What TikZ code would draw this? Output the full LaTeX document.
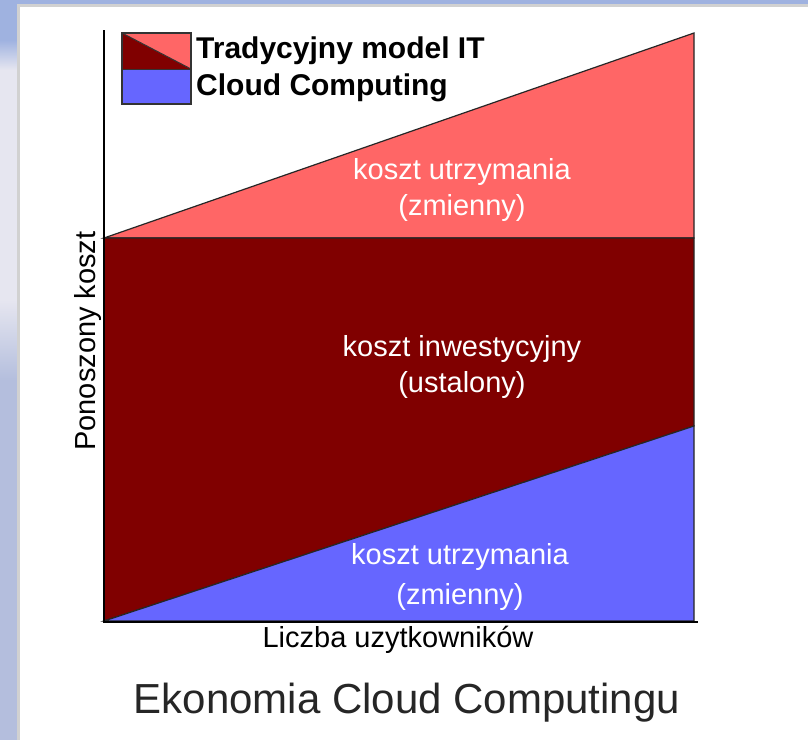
\documentclass[tikz,border=0pt]{standalone}
\usepackage{fontspec}
\setmainfont{Liberation Sans}
\definecolor{lightred}{HTML}{FF6666}
\definecolor{darkred}{HTML}{800000}
\definecolor{cloudblue}{HTML}{6666FF}
\definecolor{skyblue}{HTML}{9FB2E0}
\definecolor{skygrey}{HTML}{B4BEDD}
\definecolor{cloudwhite}{HTML}{E6E6F0}
\tikzset{
  area/.style={draw=black!85, line width=1.2pt},
  inlabel/.style={text=white, font=\fontsize{29}{36}\selectfont, align=center},
  axislabel/.style={font=\fontsize{29}{34}\selectfont},
  legendtext/.style={font=\bfseries\fontsize{30}{34}\selectfont, anchor=west, inner sep=0pt},
}
\begin{document}
\begin{tikzpicture}[x=1pt, y=-1pt]
\useasboundingbox (0, 0) rectangle (808, 740);
% background and panel
\fill[skyblue] (0, 0) rectangle (808, 740);
\shade[top color=skyblue, bottom color=cloudwhite] (0, 40) rectangle (19, 70);
\fill[cloudwhite] (0, 70) rectangle (19, 300);
\shade[top color=cloudwhite, bottom color=skygrey] (0, 300) rectangle (19, 380);
\fill[skygrey] (0, 380) rectangle (19, 740);
\fill[black!18] (17, 4) rectangle (808, 740);
\fill[white] (20, 7) rectangle (808, 740);
% cost areas
\fill[area, fill=lightred] (104, 238) -- (694, 33) -- (694, 238) -- cycle;
\fill[area, fill=darkred] (104, 238) -- (694, 238) -- (694, 426) -- (104, 621) -- cycle;
\fill[area, fill=cloudblue] (104, 621) -- (694, 426) -- (694, 621) -- cycle;
% axes
\draw[line width=2pt] (104, 30) -- (104, 622) -- (698, 622);
% legend
\fill[darkred] (122, 33) -- (191, 69) -- (122, 69) -- cycle;
\fill[lightred] (122, 33) -- (191, 33) -- (191, 69) -- cycle;
\fill[cloudblue] (122, 69) rectangle (191, 104);
\draw[black!80, line width=1pt] (122, 33) -- (191, 69);
\draw[black!80, line width=1pt] (122, 69) -- (191, 69);
\draw[black!80, line width=1.2pt] (122, 33) rectangle (191, 104);
\node[legendtext] (legend-it) at (196, 51) {Tradycyjny model IT};
\node[legendtext] (legend-cc) at (196, 88) {Cloud Computing};
% labels
\node[inlabel] (it-var) at (462, 190) {koszt utrzymania\\(zmienny)};
\node[inlabel] (it-fix) at (462, 367) {koszt inwestycyjny\\(ustalony)};
\node[inlabel, font=\fontsize{29}{40}\selectfont] (cc-var) at (460, 577) {koszt utrzymania\\(zmienny)};
\node[axislabel] (xlabel) at (398, 640) {Liczba uzytkowników};
\node[axislabel, rotate=90] (ylabel) at (88, 341) {Ponoszony koszt};
\node[font=\fontsize{42}{48}\selectfont, text=black!85] (title) at (407, 703) {Ekonomia Cloud Computingu};
\end{tikzpicture}
\end{document}
